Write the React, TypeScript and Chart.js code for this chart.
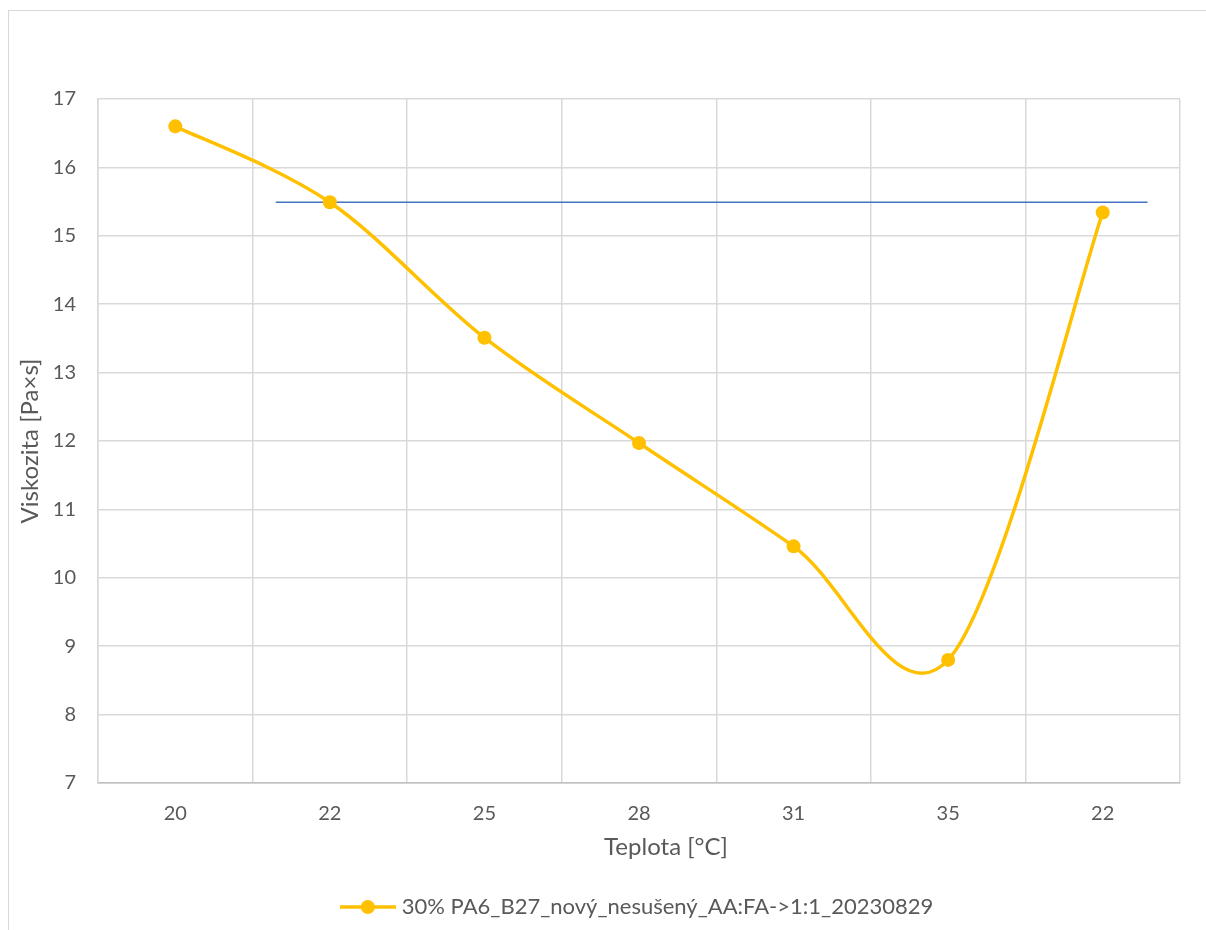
import React, { useEffect, useRef } from "react";
import { Chart, registerables } from "chart.js";

Chart.register(...registerables);

const categories = ["20", "22", "25", "28", "31", "35", "22"];
const viscosity = [16.6, 15.49, 13.51, 11.97, 10.46, 8.8, 15.34];
const seriesName = "30% PA6_B27_nový_nesušený_AA:FA->1:1_20230829";
const refLineX = [0.65, 6.29];
const refLineY = [15.49, 15.49];
const yTicks = { min: 7, max: 17, step: 1 };
const xTitle = "Teplota [°C]";
const yTitle = "Viskozita [Pa×s]";

const FONT = "Lato, 'Open Sans', sans-serif";
const TEXT = "#595959";
const GRID = "#d9d9d9";
const YELLOW = "#FFC000";
const BLUE = "#4472C4";
const X_TITLE_SHIFT = 27;
const X_TITLE_Y = 847;

function makeLegendMarker(): HTMLCanvasElement {
  const c = document.createElement("canvas");
  c.width = 56;
  c.height = 16;
  const ctx = c.getContext("2d")!;
  ctx.strokeStyle = YELLOW;
  ctx.lineWidth = 3.5;
  ctx.beginPath();
  ctx.moveTo(0, 8);
  ctx.lineTo(56, 8);
  ctx.stroke();
  ctx.fillStyle = YELLOW;
  ctx.beginPath();
  ctx.arc(28, 8, 7, 0, Math.PI * 2);
  ctx.fill();
  return c;
}

// Office-style smoothing: control points at +/- (next - prev) / 6
const officeSmooth = {
  id: "officeSmooth",
  beforeDatasetDraw(chart: any, args: any) {
    if (args.index !== 0) return;
    const meta = args.meta;
    const pts = meta.data;
    const n = pts.length;
    for (let i = 0; i < n; i++) {
      const p = pts[i];
      const prev = pts[i - 1] || p;
      const next = pts[i + 1] || p;
      const dx = (next.x - prev.x) / 6;
      const dy = (next.y - prev.y) / 6;
      p.cp1x = p.x - dx;
      p.cp1y = p.y - dy;
      p.cp2x = p.x + dx;
      p.cp2y = p.y + dy;
    }
    if (meta.dataset) {
      meta.dataset._pointsUpdated = true;
      meta.dataset._path = undefined;
    }
  },
};

// x-axis title, placed slightly right of the plot centre as in the original
const xAxisTitle = {
  id: "xAxisTitle",
  afterDraw(chart: any) {
    const { ctx, chartArea } = chart;
    ctx.save();
    ctx.font = `24px ${FONT}`;
    ctx.fillStyle = TEXT;
    ctx.textAlign = "center";
    ctx.textBaseline = "middle";
    ctx.fillText(xTitle, (chartArea.left + chartArea.right) / 2 + X_TITLE_SHIFT, X_TITLE_Y);
    ctx.restore();
  },
};

export default function App() {
  const ref = useRef<HTMLCanvasElement | null>(null);

  useEffect(() => {
    document.body.style.overflow = "hidden";
    const canvas = ref.current!;
    const marker = makeLegendMarker();
    const chart = new Chart(canvas, {
      type: "line",
      plugins: [officeSmooth, xAxisTitle],
      data: {
        labels: categories,
        datasets: [
          {
            label: seriesName,
            data: viscosity,
            borderColor: YELLOW,
            backgroundColor: YELLOW,
            borderWidth: 3.5,
            pointRadius: 7,
            pointHoverRadius: 7,
            pointBackgroundColor: YELLOW,
            pointBorderWidth: 0,
            tension: 0.5,
            capBezierPoints: false,
            xAxisID: "x",
            order: 1,
          },
          {
            label: "ref",
            data: refLineX.map((x, i) => ({ x, y: refLineY[i] })),
            borderColor: BLUE,
            borderWidth: 1.5,
            pointRadius: 0,
            tension: 0,
            xAxisID: "x2",
            order: 2,
          } as any,
        ],
      },
      options: {
        animation: false,
        responsive: false,
        layout: { padding: { top: 99, right: 26, left: 0, bottom: 2 } },
        plugins: {
          tooltip: { enabled: false },
          legend: {
            position: "bottom",
            fullSize: false,
            labels: {
              usePointStyle: true,
              pointStyleWidth: 46,
              padding: 33,
              color: TEXT,
              font: { family: FONT, size: 22 },
              generateLabels: () => [
                {
                  text: seriesName,
                  fillStyle: YELLOW,
                  strokeStyle: YELLOW,
                  lineWidth: 0,
                  pointStyle: marker,
                  datasetIndex: 0,
                  hidden: false,
                  fontColor: TEXT,
                } as any,
              ],
            },
          },
        },
        scales: {
          x: {
            type: "category",
            offset: true,
            afterFit: (s: any) => {
              s.height = 80;
            },
            grid: { offset: true, color: GRID, lineWidth: 1.5, drawTicks: false },
            border: { color: "#bfbfbf", width: 1.5 },
            ticks: { color: TEXT, font: { family: FONT, size: 20 }, padding: 19, maxRotation: 0 },
            title: { display: false },
          },
          x2: {
            type: "linear",
            display: false,
            min: -0.5,
            max: 6.5,
          },
          y: {
            min: yTicks.min,
            max: yTicks.max,
            afterFit: (s: any) => {
              s.width = 98;
            },
            grid: { color: GRID, lineWidth: 1.5, drawTicks: false },
            border: { color: GRID, width: 1.5 },
            ticks: { stepSize: yTicks.step, color: TEXT, font: { family: FONT, size: 20 }, padding: 22 },
            title: {
              display: true,
              text: yTitle,
              color: TEXT,
              font: { family: FONT, size: 24 },
              padding: { top: 16, bottom: 0 },
            },
          },
        },
      },
    });
    return () => chart.destroy();
  }, []);

  return (
    <div
      style={{
        position: "fixed",
        left: 0,
        top: 0,
        width: 1206,
        height: 930,
        overflow: "hidden",
        background: "#fff",
      }}
    >
      <div
        style={{
          position: "absolute",
          left: 8,
          top: 10,
          width: 1300,
          height: 1000,
          border: "1px solid #d9d9d9",
        }}
      />
      <canvas
        ref={ref}
        width={1206}
        height={930}
        style={{ position: "absolute", left: 0, top: 0 }}
      />
    </div>
  );
}
